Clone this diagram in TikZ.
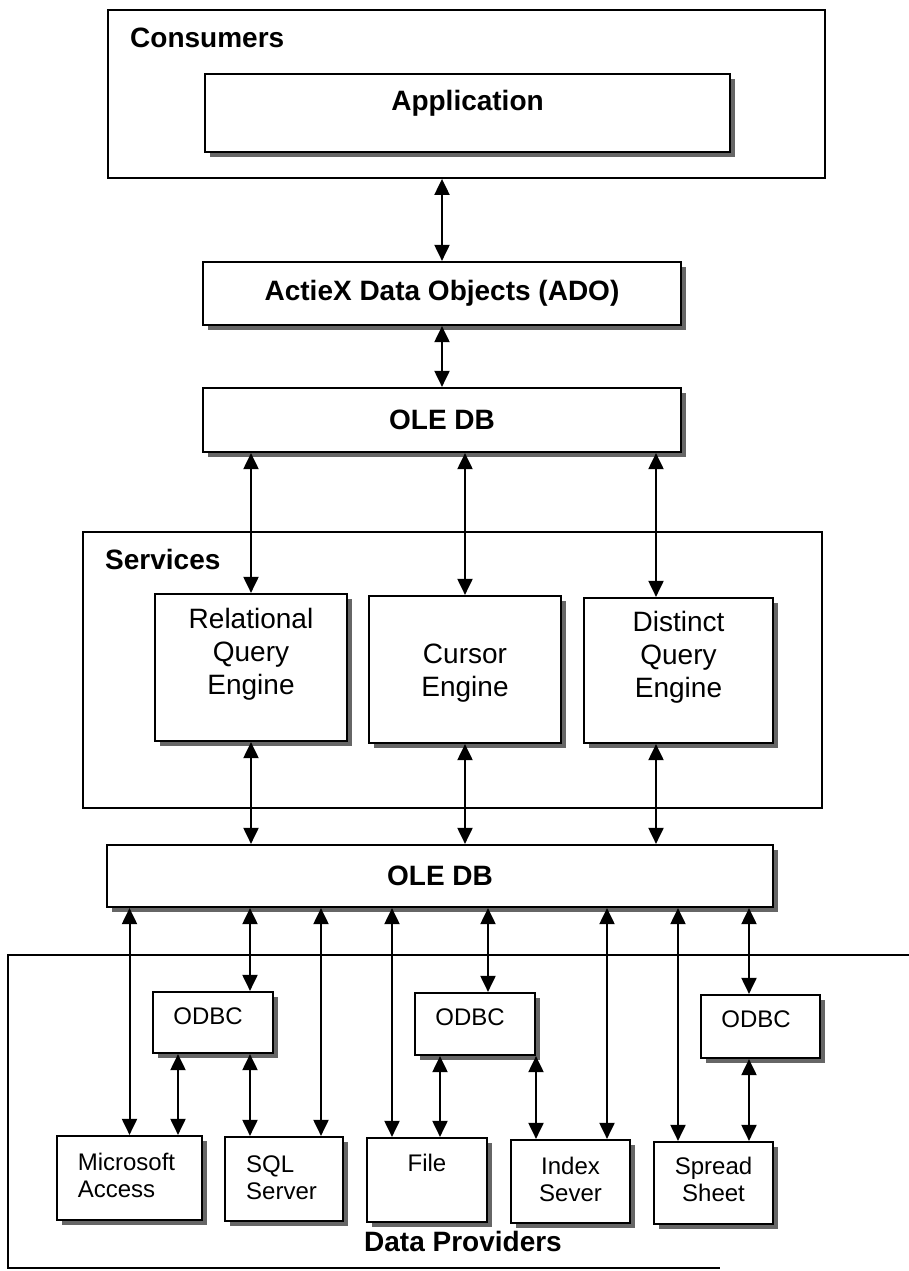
\documentclass[tikz,border=0pt]{standalone}
\usepackage{fontspec}
\setmainfont{Liberation Sans}
\usetikzlibrary{arrows.meta,shadows}
\begin{document}
\begin{tikzpicture}[x=1pt,y=-1pt,
  box/.style={draw,line width=2.2pt,fill=white,inner sep=0pt,
    drop shadow={shadow xshift=5pt,shadow yshift=-5pt,fill=black!60,opacity=1}},
  group/.style={draw,line width=1.8pt},
  big/.style={font=\fontsize{28}{33}\selectfont},
  bigb/.style={font=\fontsize{28}{33}\selectfont\bfseries},
  small/.style={font=\fontsize{24}{27}\selectfont},
  arr/.style={{Triangle[length=16pt,width=15pt]}-{Triangle[length=16pt,width=15pt]},line width=2pt},
]
\useasboundingbox (0,0) rectangle (909,1271);

% group frames
\node[group,minimum width=717pt,minimum height=168pt] (cons) at (466.5,94) {};
\node[bigb,anchor=west,inner sep=0pt] (lcons) at (130,38) {Consumers};
\node[group,minimum width=739pt,minimum height=276pt] (serv) at (452.5,670) {};
\node[bigb,anchor=west,inner sep=0pt] (lserv) at (105,559) {Services};
\coordinate (dpTR) at (909,955);
\coordinate (dpTL) at (8,955);
\coordinate (dpBL) at (8,1268);
\coordinate (dpBR) at (720,1268);
\draw[line width=1.8pt] (dpTR) -- (dpTL) -- (dpBL) -- (dpBR);
\node[bigb,inner sep=0pt] (ldp) at (463,1241) {Data Providers};

% boxes
\node[box,minimum width=525pt,minimum height=78pt,
  label={[bigb,yshift=10pt]center:Application}] (app) at (467.5,113) {};
\node[box,minimum width=478pt,minimum height=63pt,bigb] (ado) at (442,293.5) {ActieX Data Objects (ADO)};
\node[box,minimum width=478pt,minimum height=64pt,bigb] (ole1) at (442,420) {OLE DB};

\node[box,minimum width=192pt,minimum height=147pt,
  label={[big,align=center,yshift=13pt]center:Relational\\Query\\Engine}] (relq) at (251,667.5) {};
\node[box,minimum width=192pt,minimum height=147pt,
  label={[big,align=center,yshift=-4pt]center:Cursor\\Engine}] (cur) at (465,669.5) {};
\node[box,minimum width=189pt,minimum height=145pt,
  label={[big,align=center,yshift=13pt]center:Distinct\\Query\\Engine}] (dist) at (678.5,670.5) {};

\node[box,minimum width=666pt,minimum height=62pt,bigb] (ole2) at (440,876) {OLE DB};

\node[box,minimum width=120pt,minimum height=61pt,
  label={[small,xshift=-5pt,yshift=6.5pt]center:ODBC}] (odbc1) at (213,1022.5) {};
\node[box,minimum width=120pt,minimum height=62pt,
  label={[small,xshift=-5pt,yshift=7pt]center:ODBC}] (odbc2) at (475,1024) {};
\node[box,minimum width=119pt,minimum height=63pt,
  label={[small,xshift=-4.5pt,yshift=7.5pt]center:ODBC}] (odbc3) at (760.5,1026.5) {};

\node[box,minimum width=145pt,minimum height=84pt,
  label={[small,align=left,xshift=-3pt,yshift=2.5pt]center:Microsoft\\Access}] (access) at (129.5,1178) {};
\node[box,minimum width=118pt,minimum height=84pt,
  label={[small,align=left,xshift=-2.5pt,yshift=1.5pt]center:SQL\\Server}] (sql) at (284,1179) {};
\node[box,minimum width=120pt,minimum height=84pt,
  label={[small,yshift=17pt]center:File}] (file) at (427,1180) {};
\node[box,minimum width=119pt,minimum height=83pt,
  label={[small,align=center,yshift=2.5pt]center:Index\\Sever}] (index) at (570.5,1181.5) {};
\node[box,minimum width=119pt,minimum height=82pt,
  label={[small,align=center,yshift=3.5pt]center:Spread\\Sheet}] (spread) at (713.5,1183) {};

% helper x positions
\coordinate (xdist) at ([xshift=-22.5pt]dist.north);
\coordinate (xacc2) at ([xshift=48.5pt]access.north);
\coordinate (xo1) at ([xshift=37pt]odbc1.north);
\coordinate (xsql) at ([xshift=37pt]sql.north);
\coordinate (xfile) at ([xshift=-35pt]file.north);
\coordinate (xfile2) at ([xshift=13pt]file.north);
\coordinate (xo2) at ([xshift=13pt]odbc2.north);
\coordinate (xidx) at ([xshift=36.5pt]index.north);
\coordinate (xidx2) at ([xshift=-34.5pt]index.north);
\coordinate (xspr) at ([xshift=-35.5pt]spread.north);
\coordinate (xo3) at ([xshift=-11.5pt]odbc3.north);

% connectors top
\draw[arr] (cons.south -| ado.north) -- (ado.north);
\draw[arr] (ado.south) -- (ole1.north);
\draw[arr] (ole1.south -| relq.north) -- (relq.north);
\draw[arr] (ole1.south -| cur.north) -- (cur.north);
\draw[arr] (xdist |- ole1.south) -- (xdist |- dist.north);
\draw[arr] (relq.south) -- (relq.south |- ole2.north);
\draw[arr] (cur.south) -- (cur.south |- ole2.north);
\draw[arr] (xdist |- dist.south) -- (xdist |- ole2.north);

% connectors bottom
\draw[arr] (access.north |- ole2.south) -- (access.north);
\draw[arr] (xo1 |- ole2.south) -- (xo1 |- odbc1.north);
\draw[arr] (xsql |- ole2.south) -- (xsql |- sql.north);
\draw[arr] (xfile |- ole2.south) -- (xfile |- file.north);
\draw[arr] (xo2 |- ole2.south) -- (xo2 |- odbc2.north);
\draw[arr] (xidx |- ole2.south) -- (xidx |- index.north);
\draw[arr] (xspr |- ole2.south) -- (xspr |- spread.north);
\draw[arr] (xo3 |- ole2.south) -- (xo3 |- odbc3.north);

\draw[arr] (xacc2 |- odbc1.south) -- (xacc2 |- access.north);
\draw[arr] (xo1 |- odbc1.south) -- (xo1 |- sql.north);
\draw[arr] (xfile2 |- odbc2.south) -- (xfile2 |- file.north);
\draw[arr] (xidx2 |- odbc2.south) -- (xidx2 |- index.north);
\draw[arr] (xo3 |- odbc3.south) -- (xo3 |- spread.north);
\end{tikzpicture}
\end{document}
